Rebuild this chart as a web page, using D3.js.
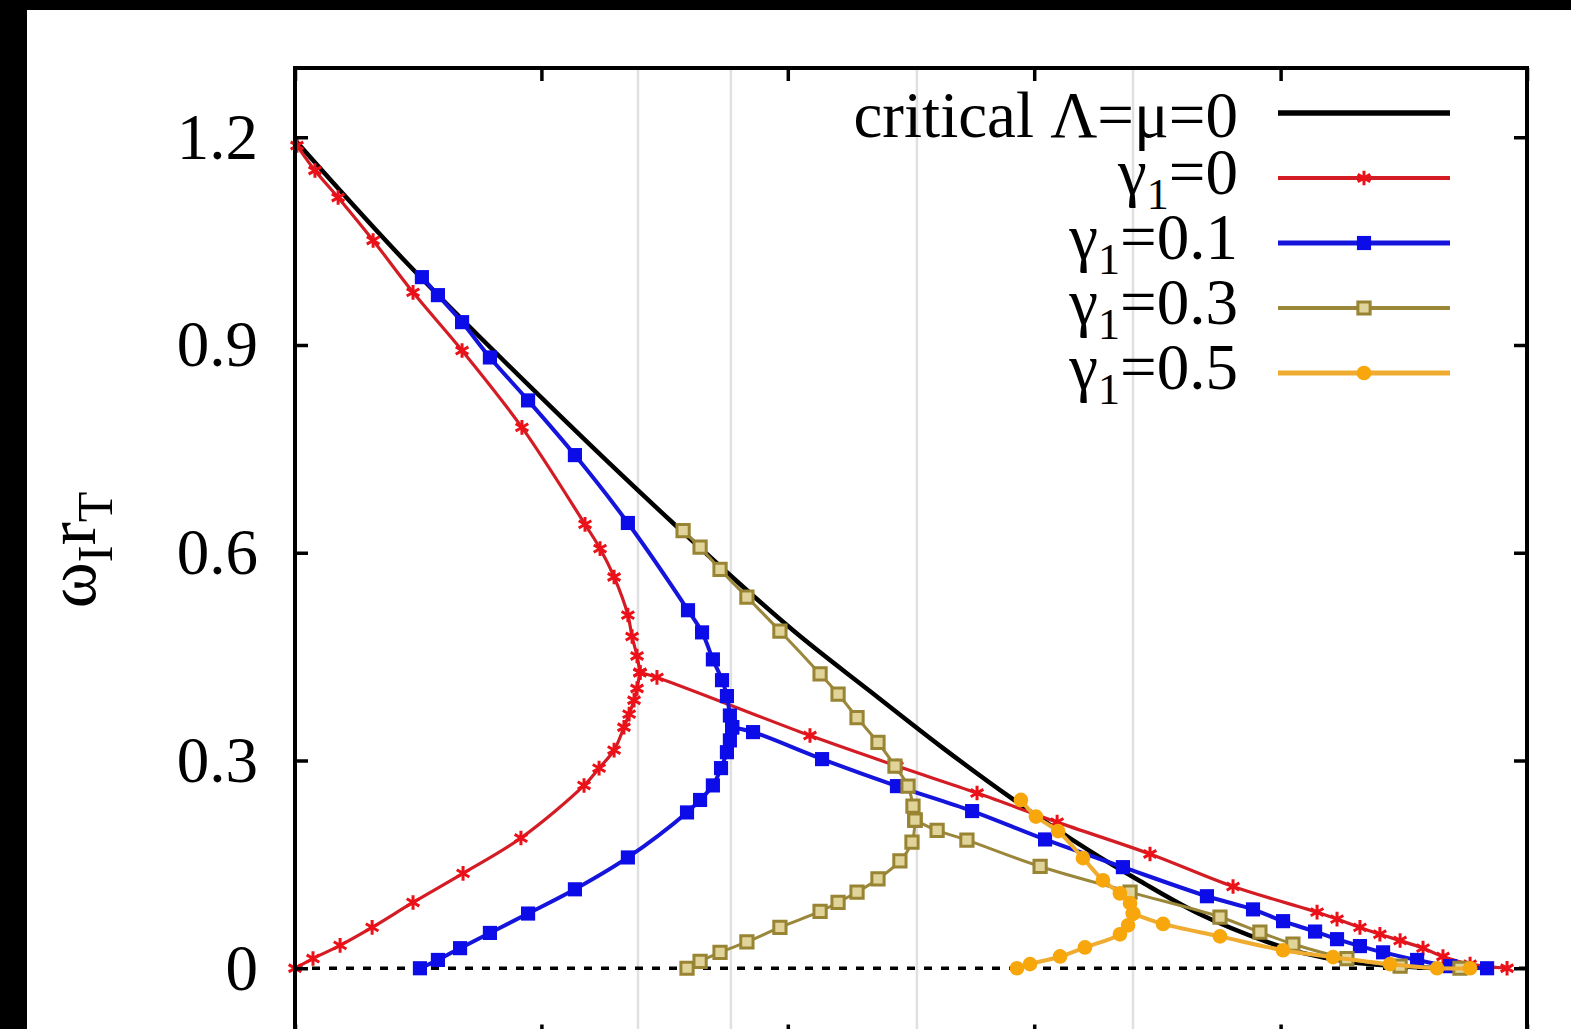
<!DOCTYPE html>
<html>
<head>
<meta charset="utf-8">
<script src="https://cdn.jsdelivr.net/npm/d3@7"></script>
<style>
html, body { margin: 0; padding: 0; background: #000; overflow: hidden; }
svg { display: block; }
text { font-family: "Liberation Serif", "Times New Roman", serif; fill: #000; }
</style>
</head>
<body>
<div id="chart"></div>
<script>

// axis ticks

var xTicks = [0, 1, 2, 3, 4, 5];
var yTicks = [0, 0.3, 0.6, 0.9, 1.2];
var yTickLabels = ["0", "0.3", "0.6", "0.9", "1.2"];

// grey guide lines at the turning points
var noseX = [1.392, 1.769, 2.524, 3.401];

// critical Lambda = mu = 0
var critical = [[0, 1.196], [0.455, 1.018], [1.023, 0.816], [1.534, 0.643], [2.021, 0.488],
  [2.334, 0.400], [2.626, 0.319], [2.902, 0.247], [3.214, 0.172], [3.429, 0.126],
  [3.673, 0.078], [3.945, 0.038], [4.079, 0.023], [4.282, 0.009], [4.485, 0.003], [4.647, 0]];

// gamma1 = 0
var g0Upper = [[0.008, 1.188], [0.081, 1.152], [0.175, 1.113], [0.317, 1.051], [0.479, 0.976],
  [0.678, 0.892], [0.921, 0.781], [1.177, 0.641], [1.238, 0.606], [1.295, 0.565],
  [1.351, 0.510], [1.368, 0.479], [1.388, 0.451], [1.400, 0.427]];
var g0Lower = [[1.400, 0.427], [1.388, 0.404], [1.376, 0.387], [1.356, 0.367], [1.335, 0.348],
  [1.295, 0.315], [1.234, 0.289], [1.173, 0.264], [0.917, 0.188], [0.682, 0.137],
  [0.479, 0.095], [0.313, 0.059], [0.183, 0.033], [0.073, 0.014], [0, 0]];
var g0Right = [[1.400, 0.427], [1.469, 0.420], [2.090, 0.336], [2.443, 0.292], [2.768, 0.253],
  [3.093, 0.211], [3.470, 0.165], [3.807, 0.118], [4.148, 0.081], [4.229, 0.071],
  [4.322, 0.059], [4.403, 0.049], [4.485, 0.040], [4.578, 0.029], [4.659, 0.017],
  [4.769, 0.006], [4.919, 0]];

// gamma1 = 0.1
var g1Upper = [[0.515, 0.998], [0.580, 0.972], [0.678, 0.933], [0.791, 0.882], [0.946, 0.820],
  [1.136, 0.741], [1.351, 0.643], [1.595, 0.517], [1.652, 0.485], [1.696, 0.446],
  [1.733, 0.416], [1.753, 0.393], [1.765, 0.365], [1.774, 0.348]];
var g1Lower = [[1.774, 0.348], [1.765, 0.329], [1.753, 0.312], [1.729, 0.289], [1.696, 0.264],
  [1.644, 0.243], [1.591, 0.225], [1.351, 0.160], [1.136, 0.114], [0.946, 0.079],
  [0.791, 0.051], [0.670, 0.029], [0.580, 0.012], [0.507, 0]];
var g1Right = [[1.774, 0.348], [1.859, 0.341], [2.139, 0.302], [2.443, 0.263], [2.748, 0.227],
  [3.044, 0.186], [3.360, 0.146], [3.701, 0.104], [3.888, 0.085], [4.010, 0.068],
  [4.140, 0.053], [4.229, 0.042], [4.322, 0.032], [4.416, 0.023], [4.554, 0.012],
  [4.688, 0.003], [4.838, 0]];

// gamma1 = 0.3
var g3Upper = [[1.575, 0.632], [1.644, 0.608], [1.725, 0.576], [1.834, 0.536], [1.968, 0.487],
  [2.131, 0.425], [2.204, 0.396], [2.281, 0.362], [2.366, 0.326], [2.435, 0.292],
  [2.488, 0.263], [2.508, 0.234], [2.516, 0.214]];
var g3Lower = [[2.516, 0.214], [2.504, 0.182], [2.455, 0.155], [2.366, 0.129], [2.281, 0.110],
  [2.204, 0.095], [2.131, 0.082], [1.968, 0.059], [1.834, 0.038], [1.725, 0.023],
  [1.644, 0.010], [1.591, 0]];
var g3Right = [[2.516, 0.214], [2.606, 0.199], [2.727, 0.185], [3.024, 0.147], [3.389, 0.110],
  [3.754, 0.074], [3.916, 0.052], [4.050, 0.035], [4.269, 0.014], [4.485, 0.003], [4.728, 0]];

// gamma1 = 0.5
var g5Upper = [[2.946, 0.243], [3.007, 0.219], [3.097, 0.198], [3.198, 0.159], [3.279, 0.127],
  [3.348, 0.108], [3.389, 0.094], [3.401, 0.079]];
var g5Lower = [[3.401, 0.079], [3.381, 0.062], [3.348, 0.049], [3.206, 0.030], [3.105, 0.017],
  [2.983, 0.006], [2.930, 0]];
var g5Right = [[3.401, 0.079], [3.523, 0.064], [3.754, 0.046], [4.010, 0.026], [4.213, 0.016],
  [4.444, 0.006], [4.635, 0], [4.769, 0]];

var legendValues = ["0", "0.1", "0.3", "0.5"];

// settings

var svgWidth = 1571;
var svgHeight = 1100;

var margin = { top: 68, left: 295 };
var width = 1232;
var height = 969.5;

var series = [
  { key: "crit", color: "#000000", lw: 4.5, symbol: d3.symbolPlus, size: 70, fill: "#000", stroke: "none",
    branches: [critical] },
  { key: "g0", color: "#d41c24", lw: 3.2, symbol: d3.symbolAsterisk, size: 150, fill: "none", stroke: "#ec1018",
    branches: [g0Upper, g0Lower, g0Right] },
  { key: "g1", color: "#1414dc", lw: 4, symbol: d3.symbolSquare, size: 200, fill: "#0c0ce8", stroke: "none",
    branches: [g1Upper, g1Lower, g1Right] },
  { key: "g3", color: "#9a873a", lw: 3, symbol: d3.symbolSquare, size: 150, fill: "#e0d49a", stroke: "#988432",
    branches: [g3Upper, g3Lower, g3Right] },
  { key: "g5", color: "#f0ac30", lw: 4, symbol: d3.symbolCircle, size: 170, fill: "#f7a60c", stroke: "none",
    branches: [g5Upper, g5Lower, g5Right] }
];

// svg

var svg = d3.select("#chart")
  .append("svg")
  .attr("width", svgWidth)
  .attr("height", svgHeight);

// white panel on the dark background
svg.append("rect")
  .attr("x", 27).attr("y", 10)
  .attr("width", svgWidth - 27).attr("height", svgHeight)
  .attr("fill", "#fff");

var chart = svg.append("g")
  .attr("transform", `translate(${margin.left}, ${margin.top})`);

var x = d3.scaleLinear().domain([0, 5]).range([0, width]);
var y = d3.scaleLinear().domain([-0.1, 1.3]).range([height, 0]);

// grey guides
chart.selectAll(".guide")
  .data(noseX)
  .enter()
  .append("line")
  .attr("class", "guide")
  .attr("x1", d => x(d)).attr("x2", d => x(d))
  .attr("y1", 0).attr("y2", height)
  .attr("stroke", "#e0e0e0")
  .attr("stroke-width", 2.5);

// zero line
chart.append("line")
  .attr("x1", 0).attr("x2", width)
  .attr("y1", y(0)).attr("y2", y(0))
  .attr("stroke", "#000")
  .attr("stroke-width", 3.5)
  .attr("stroke-dasharray", "8,9");

// curves

var line = d3.line()
  .curve(d3.curveCatmullRom.alpha(0.5))
  .x(d => x(d[0]))
  .y(d => y(d[1]));

series.forEach(function (s) {
  var g = chart.append("g").attr("class", s.key);
  s.branches.forEach(function (b) {
    g.append("path")
      .datum(b)
      .attr("d", line)
      .attr("fill", "none")
      .attr("stroke", s.color)
      .attr("stroke-width", s.lw)
      .attr("stroke-linejoin", "round");
  });
  var pts = [].concat.apply([], s.branches);
  g.selectAll(".pt")
    .data(pts)
    .enter()
    .append("path")
    .attr("class", "pt")
    .attr("transform", d => `translate(${x(d[0])}, ${y(d[1])})`)
    .attr("d", d3.symbol().type(s.symbol).size(s.size))
    .attr("fill", s.fill)
    .attr("stroke", s.stroke)
    .attr("stroke-width", 3);
});

// axes

var leftAxis = d3.axisLeft(y).tickValues(yTicks).tickSize(-13).tickPadding(37)
  .tickFormat((d, i) => yTickLabels[i]);
var rightAxis = d3.axisRight(y).tickValues(yTicks).tickSize(-13).tickFormat("");
var topAxis = d3.axisTop(x).tickValues(xTicks).tickSize(-13).tickFormat("");
var bottomAxis = d3.axisBottom(x).tickValues(xTicks).tickSize(-13).tickFormat("");

chart.append("g").attr("class", "axis").call(leftAxis);
chart.append("g").attr("class", "axis").attr("transform", `translate(${width}, 0)`).call(rightAxis);
chart.append("g").attr("class", "axis").call(topAxis);
chart.append("g").attr("class", "axis").attr("transform", `translate(0, ${height})`).call(bottomAxis);

chart.selectAll(".axis .domain").remove();
chart.selectAll(".axis line").attr("stroke", "#000").attr("stroke-width", 3.5);
chart.selectAll(".axis text")
  .attr("font-size", 65)
  .attr("font-family", "Liberation Serif, serif")
  .attr("fill", "#000");

// frame
chart.append("rect")
  .attr("width", width).attr("height", height)
  .attr("fill", "none")
  .attr("stroke", "#000")
  .attr("stroke-width", 4);

// y label  omega_I r_T
var ylab = svg.append("text")
  .attr("transform", "translate(95, 550) rotate(-90)")
  .attr("text-anchor", "middle")
  .attr("font-size", 70);
ylab.append("tspan").text("ω");
ylab.append("tspan").attr("font-size", 50).attr("dy", 17).text("I");
ylab.append("tspan").attr("dy", -17).text("r");
ylab.append("tspan").attr("font-size", 50).attr("dy", 17).text("T");

// legend

var legend = svg.append("g");
var rowY = d => 113 + 65 * d;

series.forEach(function (s, i) {
  var ly = rowY(i);
  legend.append("line")
    .attr("x1", 1278).attr("x2", 1450)
    .attr("y1", ly).attr("y2", ly)
    .attr("stroke", s.color)
    .attr("stroke-width", s.lw + 1);
  legend.append("path")
    .attr("transform", `translate(1364, ${ly})`)
    .attr("d", d3.symbol().type(s.symbol).size(s.size))
    .attr("fill", s.fill)
    .attr("stroke", s.stroke)
    .attr("stroke-width", 3);

  var t = legend.append("text")
    .attr("x", 1238)
    .attr("text-anchor", "end")
    .attr("font-size", 65);
  if (i === 0) {
    t.attr("y", ly + 24).text("critical Λ=μ=0");
  } else {
    t.attr("y", ly + 16);
    t.append("tspan").text("γ");
    t.append("tspan").attr("font-size", 44).attr("dy", 15).text("1");
    t.append("tspan").attr("dy", -15).text("=" + legendValues[i - 1]);
  }
});

</script>
</body>
</html>
